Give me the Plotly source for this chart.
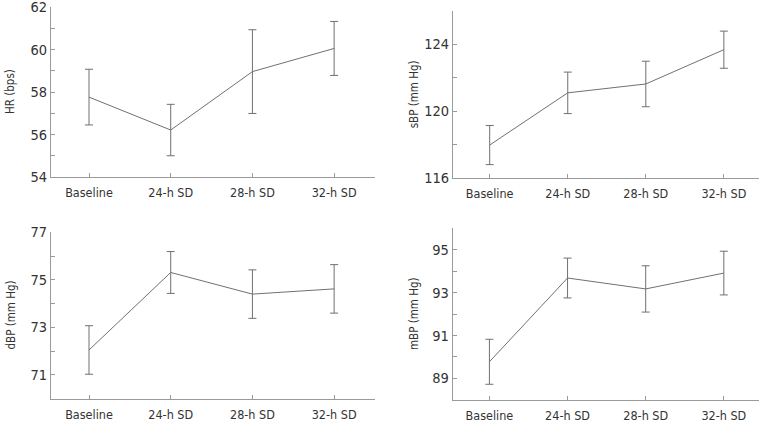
import plotly.graph_objects as go

categories = ["Baseline", "24-h SD", "28-h SD", "32-h SD"]

hr_mean = [57.76, 56.21, 58.96, 60.05]
hr_sd = [1.31, 1.21, 1.97, 1.27]

sbp_mean = [117.97, 121.09, 121.62, 123.67]
sbp_sd = [1.17, 1.24, 1.36, 1.11]

dbp_mean = [72.05, 75.31, 74.40, 74.62]
dbp_sd = [1.02, 0.88, 1.02, 1.02]

mbp_mean = [89.77, 93.68, 93.17, 93.91]
mbp_sd = [1.05, 0.93, 1.08, 1.02]

W, H = 762, 422

panels = [
    dict(mean=hr_mean, sd=hr_sd, title="HR (bps)", yr=[54, 62], major=[54, 56, 58, 60, 62], minor=[55, 57, 59, 61],
         xd=[51, 375], yd=[177, 7], xr=[-0.465, 3.50], tx=10),
    dict(mean=sbp_mean, sd=sbp_sd, title="sBP (mm Hg)", yr=[116, 126], major=[116, 120, 124], minor=[118, 122, 126],
         xd=[453, 759], yd=[178, 10.7], xr=[-0.47, 3.45], tx=414),
    dict(mean=dbp_mean, sd=dbp_sd, title="dBP (mm Hg)", yr=[70, 77], major=[71, 73, 75, 77], minor=[70, 72, 74, 76],
         xd=[51, 375], yd=[398.7, 232.3], xr=[-0.465, 3.50], tx=10),
    dict(mean=mbp_mean, sd=mbp_sd, title="mBP (mm Hg)", yr=[88, 96], major=[89, 91, 93, 95], minor=[88, 90, 92, 94, 96],
         xd=[452.7, 759], yd=[399.7, 228.3], xr=[-0.47, 3.45], tx=414),
]

FONT = "DejaVu Sans Condensed, sans-serif"
LINE = "#707070"
AX = "#9a9a9a"
TXT = "#333333"

fig = go.Figure()
layout = dict(
    width=W, height=H, margin=dict(l=0, r=0, t=0, b=0),
    paper_bgcolor="white", plot_bgcolor="white", showlegend=False,
    font=dict(family=FONT, color=TXT, size=13),
)
annotations = []

xs = list(range(len(categories)))
for i, p in enumerate(panels):
    n = "" if i == 0 else str(i + 1)
    fig.add_trace(go.Scatter(
        x=xs, y=p["mean"], mode="lines",
        line=dict(color=LINE, width=1),
        error_y=dict(type="data", array=p["sd"], visible=True, color=LINE, thickness=1, width=4),
        xaxis="x" + n, yaxis="y" + n, hoverinfo="skip",
    ))
    layout["xaxis" + n] = dict(
        domain=[p["xd"][0] / W, p["xd"][1] / W], range=p["xr"], anchor="y" + n,
        tickvals=xs, ticktext=categories, ticks="inside", ticklen=4, tickcolor=AX,
        showline=True, linecolor=AX, linewidth=1, showgrid=False, zeroline=False,
        tickfont=dict(size=12.5, color=TXT, family=FONT), fixedrange=True, automargin=False,
        ticklabeloverflow="allow", ticklabelstandoff=4,
    )
    layout["yaxis" + n] = dict(
        domain=[1 - p["yd"][0] / H, 1 - p["yd"][1] / H], range=p["yr"], anchor="x" + n,
        tickvals=p["major"], ticks="inside", ticklen=4, tickcolor=AX,
        minor=dict(tickvals=p["minor"], ticks="inside", ticklen=4, tickcolor=AX),
        showline=True, linecolor=AX, linewidth=1, showgrid=False, zeroline=False,
        tickfont=dict(size=14.5, color=TXT, family=FONT), fixedrange=True, automargin=False,
        ticklabeloverflow="allow",
    )
    annotations.append(dict(
        text=p["title"], textangle=-90, xref="paper", yref="paper",
        x=p["tx"] / W, y=1 - (p["yd"][0] + p["yd"][1]) / 2 / H,
        xanchor="center", yanchor="middle", showarrow=False,
        font=dict(size=11.5, color=TXT, family=FONT),
    ))

layout["annotations"] = annotations
fig.update_layout(**layout)
fig.write_html("out.html", config={"displayModeBar": False},
               post_script="document.body.style.margin='0';")
